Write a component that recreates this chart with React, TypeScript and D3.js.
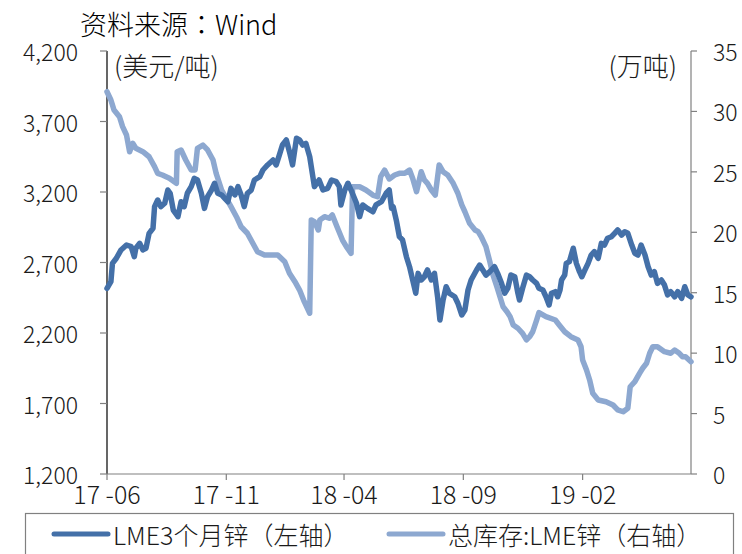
import React from "react";
import * as d3 from "d3";

// LME 3-month zinc price (USD/t)
const priceDates = [
  "2017-06-01","2017-06-06","2017-06-08","2017-06-13","2017-06-19","2017-06-26","2017-07-02","2017-07-06","2017-07-08","2017-07-13",
  "2017-07-17","2017-07-21","2017-07-25","2017-07-30","2017-08-01","2017-08-05","2017-08-09","2017-08-14","2017-08-18","2017-08-21",
  "2017-08-25","2017-08-31","2017-09-04","2017-09-08","2017-09-12","2017-09-17","2017-09-21","2017-09-25","2017-09-30","2017-10-04",
  "2017-10-08","2017-10-13","2017-10-17","2017-10-21","2017-10-26","2017-10-30","2017-11-03","2017-11-07","2017-11-12","2017-11-16",
  "2017-11-20","2017-11-24","2017-11-28","2017-12-03","2017-12-07","2017-12-14","2017-12-18","2017-12-24","2017-12-31","2018-01-04",
  "2018-01-08","2018-01-12","2018-01-17","2018-01-21","2018-01-25","2018-01-30","2018-02-03","2018-02-07","2018-02-11","2018-02-16",
  "2018-02-20","2018-02-22","2018-02-28","2018-03-05","2018-03-11","2018-03-16","2018-03-22","2018-03-26","2018-03-28","2018-04-02",
  "2018-04-06","2018-04-10","2018-04-17","2018-04-21","2018-04-25","2018-05-01","2018-05-08","2018-05-12","2018-05-19","2018-05-25",
  "2018-05-29","2018-06-01","2018-06-03","2018-06-07","2018-06-11","2018-06-15","2018-06-20","2018-06-24","2018-06-28","2018-07-02",
  "2018-07-05","2018-07-09","2018-07-13","2018-07-17","2018-07-22","2018-07-26","2018-07-30","2018-08-02","2018-08-06","2018-08-10",
  "2018-08-14","2018-08-21","2018-08-25","2018-08-30","2018-09-03","2018-09-07","2018-09-11","2018-09-18","2018-09-22","2018-09-26",
  "2018-09-30","2018-10-05","2018-10-11","2018-10-15","2018-10-20","2018-10-24","2018-10-28","2018-11-01","2018-11-06","2018-11-10",
  "2018-11-12","2018-11-16","2018-11-21","2018-11-25","2018-11-29","2018-12-04","2018-12-07","2018-12-12","2018-12-16","2018-12-20",
  "2018-12-23","2018-12-28","2018-12-31","2019-01-03","2019-01-05","2019-01-09","2019-01-11","2019-01-15","2019-01-20","2019-01-24",
  "2019-01-28","2019-01-31","2019-02-04","2019-02-08","2019-02-12","2019-02-16","2019-02-21","2019-02-25","2019-03-01","2019-03-05",
  "2019-03-10","2019-03-14","2019-03-18","2019-03-23","2019-03-27","2019-03-31","2019-04-05","2019-04-09","2019-04-13","2019-04-17",
  "2019-04-22","2019-04-26","2019-04-30","2019-05-04","2019-05-08","2019-05-13","2019-05-17","2019-05-21","2019-05-25","2019-05-30",
  "2019-06-03","2019-06-08","2019-06-12","2019-06-16","2019-06-20",
];
const priceValues = [
  2517, 2564, 2694, 2730, 2789, 2824, 2812, 2741, 2801, 2836,
  2789, 2801, 2907, 2943, 3096, 3143, 3096, 3120, 3214, 3191,
  3072, 3025, 3131, 3096, 3191, 3238, 3297, 3285, 3191, 3084,
  3167, 3214, 3262, 3191, 3179, 3155, 3131, 3226, 3179, 3238,
  3179, 3096, 3191, 3214, 3285, 3309, 3356, 3392, 3427, 3392,
  3462, 3533, 3569, 3486, 3392, 3581, 3569, 3533, 3545, 3450,
  3309, 3238, 3285, 3214, 3226, 3285, 3273, 3238, 3108, 3214,
  3262, 3214, 3120, 3025, 3108, 3084, 3060, 3108, 3131, 3191,
  3214, 3084, 3096, 3001, 2883, 2860, 2741, 2670, 2576, 2482,
  2623, 2576, 2599, 2647, 2576, 2623, 2457, 2292, 2434, 2528,
  2482, 2457, 2411, 2328, 2363, 2505, 2576, 2647, 2682, 2647,
  2611, 2635, 2670, 2623, 2552, 2482, 2517, 2611, 2599, 2482,
  2434, 2517, 2611, 2599, 2576, 2552, 2517, 2505, 2457, 2399,
  2482, 2493, 2457, 2505, 2576, 2611, 2694, 2706, 2801, 2694,
  2635, 2599, 2647, 2694, 2753, 2777, 2730, 2836, 2824, 2872,
  2883, 2907, 2931, 2895, 2918, 2907, 2824, 2765, 2753, 2824,
  2753, 2670, 2611, 2635, 2552, 2576, 2540, 2470, 2493, 2457,
  2493, 2446, 2528, 2470, 2457,
];

// LME zinc total stocks (10k tonnes)
const stockDates = [
  "2017-06-01","2017-06-06","2017-06-10","2017-06-17","2017-06-21","2017-06-26","2017-06-30","2017-07-04","2017-07-08","2017-07-17",
  "2017-07-25","2017-08-01","2017-08-05","2017-08-11","2017-08-20","2017-08-29","2017-08-30","2017-09-04","2017-09-10","2017-09-17",
  "2017-09-22","2017-09-25","2017-10-02","2017-10-08","2017-10-15","2017-10-19","2017-10-26","2017-11-01","2017-11-07","2017-11-14",
  "2017-11-20","2017-11-28","2017-12-05","2017-12-11","2017-12-20","2018-01-06","2018-01-15","2018-01-21","2018-01-28","2018-02-03",
  "2018-02-09","2018-02-16","2018-02-18","2018-02-22","2018-02-27","2018-03-01","2018-03-07","2018-03-13","2018-03-17","2018-03-23",
  "2018-03-30","2018-04-04","2018-04-10","2018-04-12","2018-04-21","2018-04-29","2018-05-08","2018-05-14","2018-05-18","2018-05-23",
  "2018-05-29","2018-06-05","2018-06-11","2018-06-18","2018-06-24","2018-06-28","2018-07-03","2018-07-09","2018-07-13","2018-07-17",
  "2018-07-22","2018-07-27","2018-08-01","2018-08-06","2018-08-12","2018-08-19","2018-08-25","2018-08-30","2018-09-03","2018-09-09",
  "2018-09-16","2018-09-20","2018-09-24","2018-09-30","2018-10-05","2018-10-09","2018-10-14","2018-10-18","2018-10-22","2018-10-27",
  "2018-10-31","2018-11-04","2018-11-10","2018-11-16","2018-11-21","2018-11-25","2018-11-29","2018-12-04","2018-12-07","2018-12-16",
  "2018-12-28","2019-01-02","2019-01-09","2019-01-17","2019-01-26","2019-01-30","2019-02-01","2019-02-06","2019-02-10","2019-02-14",
  "2019-02-21","2019-03-03","2019-03-12","2019-03-18","2019-03-25","2019-03-31","2019-04-03","2019-04-09","2019-04-15","2019-04-19",
  "2019-04-24","2019-04-28","2019-05-02","2019-05-08","2019-05-17","2019-05-25","2019-05-30","2019-06-05","2019-06-09","2019-06-13",
  "2019-06-20",
];
const stockValues = [
  31.63, 30.95, 30.12, 29.56, 28.74, 28.05, 26.67, 27.36, 26.95, 26.67,
  26.25, 25.43, 24.88, 24.74, 24.47, 24.05, 26.67, 26.81, 25.98, 25.15,
  25.15, 26.95, 27.22, 26.81, 25.98, 24.88, 23.50, 22.81, 22.12, 21.29,
  20.46, 19.92, 19.09, 18.39, 18.12, 18.12, 17.57, 16.61, 15.91, 15.22,
  14.26, 13.30, 21.02, 20.88, 20.19, 21.02, 21.29, 21.16, 21.43, 20.46,
  19.36, 18.81, 18.26, 23.77, 23.77, 23.50, 23.08, 22.94, 24.60, 25.15,
  24.41, 24.74, 24.88, 24.88, 25.15, 24.47, 23.36, 25.01, 24.33, 24.05,
  23.50, 23.08, 25.57, 25.01, 24.74, 24.05, 23.23, 22.26, 21.70, 20.74,
  20.19, 20.05, 19.63, 18.81, 17.57, 16.47, 15.50, 14.67, 13.84, 13.43,
  13.02, 12.33, 12.06, 11.64, 11.09, 11.36, 11.77, 12.74, 13.36, 13.02,
  12.74, 12.33, 11.77, 11.36, 11.09, 10.53, 9.43, 8.61, 7.78, 6.68,
  6.12, 5.98, 5.71, 5.30, 5.15, 5.44, 7.22, 7.64, 8.33, 8.75,
  9.16, 9.99, 10.53, 10.53, 10.12, 9.99, 10.26, 9.99, 9.71, 9.71,
  9.29,
];

const leftTicks = [1200, 1700, 2200, 2700, 3200, 3700, 4200];
const rightTicks = [0, 5, 10, 15, 20, 25, 30, 35];
const xTickDates = ["2017-06-01", "2017-11-01", "2018-04-01", "2018-09-01", "2019-02-01"];
const xTickLabels = ["17 -06", "17 -11", "18 -04", "18 -09", "19 -02"];

const titleHead = "资料来源";
const titleColon = "：";
const titleTail = "Wind";
const leftUnit = "(美元/吨)";
const rightUnit = "(万吨)";
const priceName = "LME3个月锌（左轴）";
const stockName = "总库存:LME锌（右轴）";

const DARK = "#4470a8";
const LIGHT = "#8da8d0";
const FONT = "'Noto Sans CJK SC', 'Noto Sans', sans-serif";
const FONT_TC = "'Noto Sans CJK TC', 'Noto Sans CJK SC', sans-serif";

const W = 742;
const H = 554;
const plot = { left: 107, right: 691, top: 51, bottom: 474 };

const parse = d3.timeParse("%Y-%m-%d");

export default function App() {
  const x = d3
    .scaleTime()
    .domain([parse("2017-06-01")!, parse("2019-06-20")!])
    .range([plot.left, plot.right]);
  const yL = d3.scaleLinear().domain([1200, 4200]).range([plot.bottom, plot.top]);
  const yR = d3.scaleLinear().domain([0, 35]).range([plot.bottom, plot.top]);

  const priceLine = d3
    .line<number>()
    .x((_, i) => x(parse(priceDates[i])!))
    .y((v) => yL(v));
  const stockLine = d3
    .line<number>()
    .x((_, i) => x(parse(stockDates[i])!))
    .y((v) => yR(v));

  const tickFont = 23;
  const textColor = "#1a1a1a";

  return (
    <svg
      width={W}
      height={H}
      style={{ position: "absolute", left: 0, top: 0, background: "#fff" }}
      fontFamily={FONT}
      fontWeight={300}
    >
      <rect x={0} y={0} width={W} height={H} fill="#fff" />

      <text x={80} y={35} fontSize={27} fill="#000">
        {titleHead}
        <tspan fontFamily={FONT_TC}>{titleColon}</tspan>
        {titleTail}
      </text>

      {/* left axis */}
      <line x1={plot.left} x2={plot.left} y1={plot.top} y2={plot.bottom} stroke="#000" strokeWidth={1.2} />
      {leftTicks.map((t) => (
        <g key={"l" + t}>
          <line x1={plot.left - 7} x2={plot.left} y1={yL(t)} y2={yL(t)} stroke="#808080" strokeWidth={1.2} />
          <text
            x={78}
            y={yL(t)}
            textAnchor="end"
            dominantBaseline="central"
            fontSize={tickFont}
            fill={textColor}
          >
            {d3.format(",")(t)}
          </text>
        </g>
      ))}

      {/* right axis */}
      <line x1={plot.right} x2={plot.right} y1={plot.top} y2={plot.bottom} stroke="#808080" strokeWidth={1.2} />
      {rightTicks.map((t) => (
        <g key={"r" + t}>
          <line x1={plot.right} x2={plot.right + 6} y1={yR(t)} y2={yR(t)} stroke="#808080" strokeWidth={1.2} />
          <text
            x={713}
            y={yR(t)}
            textAnchor="start"
            dominantBaseline="central"
            fontSize={tickFont}
            fill={textColor}
          >
            {t}
          </text>
        </g>
      ))}

      {/* bottom axis */}
      <line x1={plot.left} x2={plot.right} y1={plot.bottom} y2={plot.bottom} stroke="#808080" strokeWidth={1.2} />
      {xTickDates.map((d, i) => {
        const px = x(parse(d)!);
        return (
          <g key={d}>
            <line x1={px} x2={px} y1={plot.bottom} y2={plot.bottom + 6} stroke="#808080" strokeWidth={1.2} />
            <text
              x={px}
              y={493}
              textAnchor="middle"
              dominantBaseline="central"
              fontSize={25}
              fill={textColor}
              style={{ whiteSpace: "pre" }}
            >
              {xTickLabels[i]}
            </text>
          </g>
        );
      })}

      {/* unit labels */}
      <text x={114} y={64} dominantBaseline="central" fontSize={26} fill={textColor}>
        {leftUnit}
      </text>
      <text x={677} y={64} textAnchor="end" dominantBaseline="central" fontSize={26} fill={textColor}>
        {rightUnit}
      </text>

      {/* series */}
      <path
        d={stockLine(stockValues) ?? ""}
        fill="none"
        stroke={LIGHT}
        strokeWidth={5.5}
        strokeLinejoin="round"
        strokeLinecap="round"
      />
      <path
        d={priceLine(priceValues) ?? ""}
        fill="none"
        stroke={DARK}
        strokeWidth={5.5}
        strokeLinejoin="round"
        strokeLinecap="round"
      />

      {/* legend */}
      <rect x={25.5} y={513.5} width={708} height={60} fill="none" stroke="#808080" strokeWidth={1.2} />
      <line x1={54} x2={108} y1={534} y2={534} stroke={DARK} strokeWidth={5} strokeLinecap="round" />
      <text x={113} y={534} dominantBaseline="central" fontSize={25} fill={textColor}>
        {priceName}
      </text>
      <line x1={389} x2={443} y1={534} y2={534} stroke={LIGHT} strokeWidth={5} strokeLinecap="round" />
      <text x={448} y={534} dominantBaseline="central" fontSize={25} fill={textColor}>
        {stockName}
      </text>
    </svg>
  );
}
